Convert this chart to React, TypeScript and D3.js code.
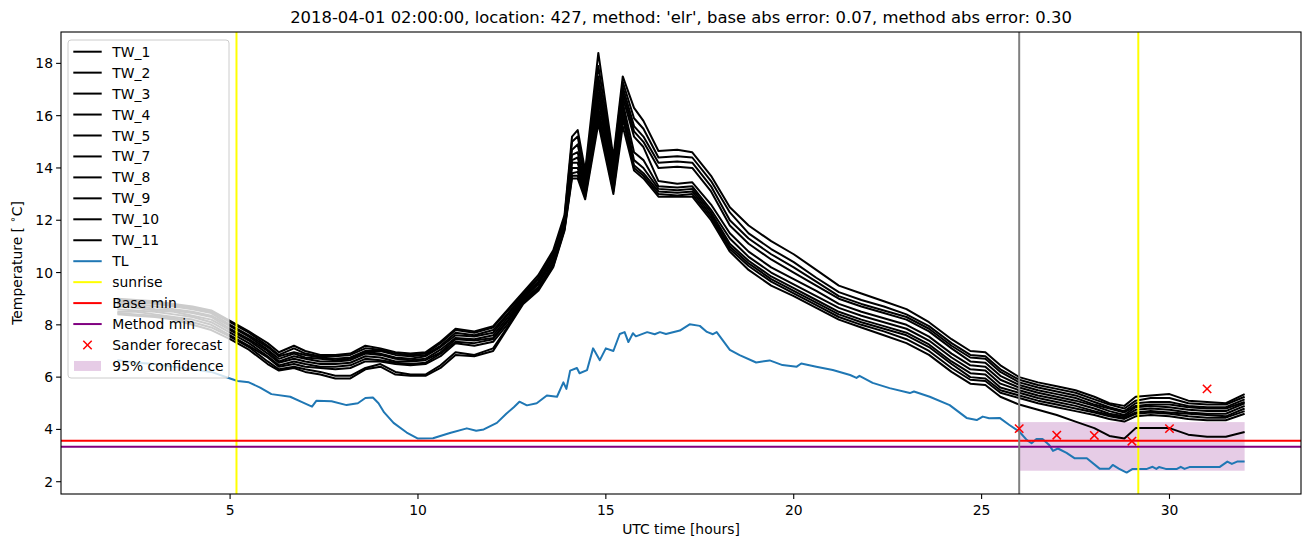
import React from 'react';
import * as d3 from 'd3';

const W = 1311;
const H = 547;
const AX = { left: 61, right: 1301, top: 32, bottom: 494 };
const FONT = 'DejaVu Sans';

const twHours = [2, 2.5, 3, 3.5, 4, 4.5, 5, 5.5, 6, 6.3, 6.7, 7, 7.4, 7.8, 8.2, 8.6, 9, 9.4, 9.8, 10.2, 10.6, 11, 11.5, 12, 12.4, 12.8, 13.2, 13.6, 13.9, 14.1, 14.25, 14.45, 14.8, 15.2, 15.45, 15.75, 16.0, 16.4, 16.9, 17.3, 17.8, 18.3, 18.8, 19.4, 20, 20.6, 21.2, 21.8, 22.4, 23, 23.6, 24.2, 24.7, 25.1, 25.5, 26, 26.5, 27, 27.5, 28, 28.4, 28.8, 29.1, 29.5, 30, 30.5, 31, 31.5, 32];

const tw1 = [9.0, 8.95, 8.9, 8.8, 8.7, 8.55, 8.15, 7.75, 7.3, 6.95, 7.2, 7.0, 6.85, 6.85, 6.9, 7.2, 7.1, 6.95, 6.9, 6.95, 7.35, 7.85, 7.75, 7.95, 8.6, 9.25, 9.9, 10.85, 12.2, 15.2, 15.45, 13.9, 18.4, 14.4, 17.5, 16.3, 15.8, 14.65, 14.7, 14.6, 13.7, 12.5, 11.8, 11.2, 10.7, 10.1, 9.5, 9.2, 8.9, 8.6, 8.1, 7.45, 7.0, 6.95, 6.45, 6.0, 5.8, 5.65, 5.5, 5.25, 5.0, 4.9, 5.25, 5.3, 5.35, 5.1, 5.05, 5.0, 5.35];
const tw2 = [8.95, 8.9, 8.85, 8.75, 8.65, 8.5, 8.1, 7.7, 7.2, 6.85, 7.1, 6.9, 6.8, 6.8, 6.85, 7.1, 7.05, 6.9, 6.85, 6.9, 7.3, 7.8, 7.7, 7.9, 8.55, 9.2, 9.8, 10.75, 12.1, 15.0, 15.2, 13.7, 17.9, 14.2, 17.3, 15.9, 15.5, 14.4, 14.45, 14.4, 13.5, 12.3, 11.5, 10.9, 10.4, 9.8, 9.25, 8.95, 8.7, 8.4, 7.95, 7.3, 6.85, 6.8, 6.3, 5.9, 5.7, 5.55, 5.4, 5.15, 4.95, 4.8, 5.1, 5.2, 5.2, 5.0, 4.95, 4.95, 5.25];
const tw3 = [8.9, 8.85, 8.8, 8.7, 8.6, 8.45, 8.0, 7.6, 7.15, 6.8, 6.95, 6.85, 6.75, 6.7, 6.75, 7.0, 7.0, 6.85, 6.8, 6.85, 7.2, 7.7, 7.6, 7.8, 8.45, 9.15, 9.75, 10.7, 12.0, 14.7, 14.9, 13.55, 17.5, 14.0, 17.1, 15.6, 15.2, 14.2, 14.25, 14.2, 13.3, 12.0, 11.3, 10.7, 10.2, 9.65, 9.1, 8.8, 8.55, 8.3, 7.85, 7.2, 6.75, 6.7, 6.2, 5.8, 5.6, 5.45, 5.3, 5.05, 4.85, 4.7, 5.0, 5.05, 5.05, 4.9, 4.85, 4.85, 5.15];
const tw4 = [8.85, 8.8, 8.7, 8.6, 8.5, 8.35, 7.95, 7.55, 7.05, 6.7, 6.9, 6.75, 6.7, 6.65, 6.7, 6.95, 6.9, 6.75, 6.7, 6.8, 7.15, 7.6, 7.55, 7.7, 8.4, 9.1, 9.65, 10.6, 11.95, 14.5, 14.6, 13.4, 17.2, 13.8, 16.9, 15.4, 15.0, 14.0, 14.05, 14.0, 13.1, 11.8, 11.1, 10.5, 10.0, 9.5, 9.0, 8.7, 8.45, 8.2, 7.75, 7.1, 6.6, 6.55, 6.05, 5.7, 5.5, 5.35, 5.2, 4.95, 4.8, 4.65, 4.9, 4.95, 4.95, 4.85, 4.8, 4.8, 5.05];
const tw5 = [8.8, 8.75, 8.6, 8.55, 8.45, 8.3, 7.85, 7.45, 7.0, 6.6, 6.8, 6.7, 6.6, 6.6, 6.65, 6.9, 6.85, 6.7, 6.65, 6.7, 7.05, 7.5, 7.45, 7.6, 8.3, 9.05, 9.6, 10.5, 11.9, 14.3, 14.4, 13.3, 16.9, 13.6, 16.7, 15.2, 14.8, 13.5, 13.4, 13.45, 12.6, 11.5, 10.8, 10.2, 9.75, 9.3, 8.8, 8.5, 8.25, 8.0, 7.55, 6.9, 6.45, 6.4, 5.9, 5.6, 5.4, 5.25, 5.1, 4.9, 4.7, 4.55, 4.85, 4.9, 4.85, 4.75, 4.7, 4.7, 5.0];
const tw7 = [8.7, 8.65, 8.55, 8.5, 8.35, 8.2, 7.8, 7.4, 6.9, 6.55, 6.7, 6.6, 6.5, 6.5, 6.55, 6.8, 6.75, 6.6, 6.6, 6.65, 6.95, 7.45, 7.4, 7.5, 8.2, 9.0, 9.55, 10.45, 11.8, 14.2, 14.2, 13.2, 16.6, 13.5, 16.5, 14.6, 14.3, 13.3, 13.25, 13.3, 12.4, 11.3, 10.6, 10.0, 9.55, 9.1, 8.65, 8.35, 8.1, 7.85, 7.4, 6.75, 6.3, 6.25, 5.75, 5.5, 5.3, 5.15, 5.0, 4.8, 4.6, 4.5, 4.75, 4.8, 4.75, 4.65, 4.6, 4.6, 4.9];
const tw8 = [8.6, 8.55, 8.5, 8.4, 8.3, 8.1, 7.7, 7.3, 6.8, 6.45, 6.6, 6.5, 6.4, 6.4, 6.45, 6.7, 6.65, 6.55, 6.5, 6.55, 6.9, 7.35, 7.3, 7.45, 8.15, 8.95, 9.45, 10.35, 11.75, 14.0, 14.0, 13.1, 16.3, 13.3, 16.3, 14.3, 14.0, 13.2, 13.15, 13.2, 12.3, 11.1, 10.45, 9.85, 9.4, 8.95, 8.5, 8.2, 7.95, 7.7, 7.25, 6.6, 6.15, 6.1, 5.6, 5.4, 5.2, 5.05, 4.9, 4.7, 4.55, 4.45, 4.65, 4.7, 4.65, 4.6, 4.55, 4.5, 4.8];
const tw9 = [8.5, 8.5, 8.4, 8.3, 8.2, 8.0, 7.6, 7.2, 6.75, 6.4, 6.5, 6.4, 6.35, 6.3, 6.35, 6.6, 6.6, 6.5, 6.45, 6.5, 6.8, 7.3, 7.2, 7.35, 8.05, 8.9, 9.4, 10.3, 11.7, 13.8, 13.85, 13.0, 16.1, 13.2, 16.1, 14.1, 13.8, 13.1, 13.05, 13.1, 12.2, 11.0, 10.35, 9.75, 9.3, 8.85, 8.4, 8.1, 7.85, 7.6, 7.15, 6.5, 6.0, 5.95, 5.5, 5.3, 5.1, 4.95, 4.8, 4.65, 4.5, 4.4, 4.6, 4.65, 4.6, 4.5, 4.45, 4.45, 4.7];
const tw10 = [8.45, 8.4, 8.35, 8.25, 8.1, 7.9, 7.55, 7.15, 6.6, 6.3, 6.4, 6.3, 6.2, 6.05, 6.05, 6.35, 6.5, 6.2, 6.1, 6.1, 6.45, 6.95, 6.85, 7.1, 7.95, 8.85, 9.35, 10.25, 11.65, 13.7, 13.7, 12.9, 15.9, 13.1, 15.9, 14.0, 13.7, 13.0, 12.95, 13.0, 12.1, 10.9, 10.25, 9.65, 9.2, 8.75, 8.3, 8.0, 7.75, 7.45, 7.0, 6.35, 5.9, 5.85, 5.4, 5.2, 5.0, 4.85, 4.7, 4.55, 4.4, 4.3, 4.5, 4.55, 4.5, 4.4, 4.35, 4.35, 4.6];
const tw11 = [8.4, 8.35, 8.3, 8.2, 8.0, 7.8, 7.45, 7.05, 6.5, 6.25, 6.35, 6.2, 6.1, 5.95, 5.95, 6.3, 6.4, 6.1, 6.05, 6.05, 6.35, 6.85, 6.8, 7.0, 7.9, 8.8, 9.3, 10.2, 11.6, 13.6, 13.6, 12.8, 15.7, 13.0, 15.6, 13.9, 13.6, 12.9, 12.9, 12.9, 12.0, 10.8, 10.1, 9.5, 9.1, 8.65, 8.2, 7.9, 7.6, 7.3, 6.85, 6.2, 5.75, 5.7, 5.25, 4.95, 4.75, 4.55, 4.3, 4.05, 3.75, 3.65, 4.05, 4.05, 4.05, 3.8, 3.72, 3.72, 3.9];

const twNames = ['TW_1', 'TW_2', 'TW_3', 'TW_4', 'TW_5', 'TW_7', 'TW_8', 'TW_9', 'TW_10', 'TW_11'];
const twSeries = [tw1, tw2, tw3, tw4, tw5, tw7, tw8, tw9, tw10, tw11];

const tlHours = [2.0, 2.5, 3.0, 3.5, 4.0, 4.5, 5.0, 5.2, 5.5, 5.8, 6.1, 6.6, 6.9, 7.18, 7.3, 7.7, 8.1, 8.4, 8.6, 8.8, 8.95, 9.1, 9.35, 9.7, 10.0, 10.4, 10.85, 11.3, 11.55, 11.75, 12.1, 12.35, 12.55, 12.7, 12.9, 13.16, 13.43, 13.7, 13.87, 13.95, 14.05, 14.23, 14.3, 14.5, 14.66, 14.84, 15.0, 15.2, 15.37, 15.5, 15.6, 15.72, 15.8, 16.1, 16.3, 16.44, 16.6, 16.97, 17.23, 17.5, 17.69, 17.85, 17.95, 18.3, 18.56, 19.0, 19.36, 19.7, 20.08, 20.2, 20.6, 21.04, 21.5, 21.67, 21.75, 22.1, 22.55, 23.09, 23.2, 23.62, 24.15, 24.6, 24.87, 25.03, 25.2, 25.48, 25.74, 26.0, 26.2, 26.33, 26.46, 26.62, 26.8, 26.9, 27.03, 27.26, 27.47, 27.8, 28.14, 28.4, 28.49, 28.65, 28.86, 29.02, 29.4, 29.55, 29.65, 29.72, 29.9, 30.2, 30.3, 30.4, 30.53, 31.33, 31.54, 31.66, 31.8, 32.0];
const tlValues = [6.65, 6.55, 6.5, 6.4, 6.3, 6.2, 5.95, 5.85, 5.8, 5.6, 5.35, 5.25, 5.05, 4.87, 5.1, 5.08, 4.93, 5.0, 5.2, 5.22, 5.0, 4.65, 4.25, 3.88, 3.65, 3.66, 3.86, 4.04, 3.95, 4.0, 4.25, 4.6, 4.85, 5.06, 4.92, 5.0, 5.3, 5.25, 5.8, 5.55, 6.25, 6.35, 6.15, 6.27, 7.1, 6.65, 7.1, 7.0, 7.65, 7.72, 7.34, 7.68, 7.56, 7.72, 7.64, 7.72, 7.65, 7.78, 8.02, 7.96, 7.73, 7.64, 7.72, 7.04, 6.84, 6.56, 6.64, 6.46, 6.4, 6.52, 6.4, 6.27, 6.08, 5.97, 6.05, 5.78, 5.58, 5.39, 5.45, 5.25, 4.93, 4.44, 4.36, 4.49, 4.43, 4.44, 4.17, 3.92, 3.6, 3.47, 3.63, 3.63, 3.4, 3.18, 3.27, 3.1, 2.9, 2.9, 2.5, 2.5, 2.64, 2.5, 2.35, 2.49, 2.49, 2.57, 2.49, 2.56, 2.49, 2.49, 2.57, 2.49, 2.56, 2.56, 2.77, 2.68, 2.77, 2.77];

const sunriseHours = [5.17, 29.17];
const forecastHour = 26;
const baseMin = 3.57;
const methodMin = 3.34;
const ciHours = [26, 32];
const ciLow = 2.42;
const ciHigh = 4.28;
const sanderHours = [26, 27, 28, 29, 30, 31];
const sanderValues = [4.03, 3.78, 3.77, 3.55, 4.03, 5.55];

const xTicks = [5, 10, 15, 20, 25, 30];
const yTicks = [2, 4, 6, 8, 10, 12, 14, 16, 18];

const titleText = "2018-04-01 02:00:00, location: 427, method: 'elr', base abs error: 0.07, method abs error: 0.30";

export default function App() {
  const x = d3.scaleLinear().domain([0.5, 33.5]).range([AX.left, AX.right]);
  const y = d3.scaleLinear().domain([1.53, 19.2]).range([AX.bottom, AX.top]);

  const lineGen = d3
    .line<[number, number]>()
    .x((d) => x(d[0]))
    .y((d) => y(d[1]));

  const twPaths = twSeries.map((s) => lineGen(twHours.map((h, i) => [h, s[i]] as [number, number])) || '');
  const tlPath = lineGen(tlHours.map((h, i) => [h, tlValues[i]] as [number, number])) || '';

  const legendItems: { label: string; kind: string; color: string }[] = [
    ...twNames.map((n) => ({ label: n, kind: 'line', color: '#000000' })),
    { label: 'TL', kind: 'line', color: '#1f77b4' },
    { label: 'sunrise', kind: 'line', color: '#ffff00' },
    { label: 'Base min', kind: 'line', color: '#ff0000' },
    { label: 'Method min', kind: 'line', color: '#800080' },
    { label: 'Sander forecast', kind: 'x', color: '#ff0000' },
    { label: '95% confidence', kind: 'patch', color: '#800080' },
  ];

  const legX = 68;
  const legY = 40;
  const legW = 161;
  const legH = 338;
  const rowH = 20.95;
  const firstRow = 51.7;

  const xm = 4.2;

  return (
    <svg width={W} height={H} style={{ position: 'absolute', left: 0, top: 0, background: '#fff' }} fontFamily={FONT}>
      <rect x={0} y={0} width={W} height={H} fill="#fff" />
      <defs>
        <clipPath id="axclip">
          <rect x={AX.left} y={AX.top} width={AX.right - AX.left} height={AX.bottom - AX.top} />
        </clipPath>
      </defs>

      <g clipPath="url(#axclip)">
        <rect
          x={x(ciHours[0])}
          y={y(ciHigh)}
          width={x(ciHours[1]) - x(ciHours[0])}
          height={y(ciLow) - y(ciHigh)}
          fill="#800080"
          fillOpacity={0.2}
        />
        {twPaths.map((p, i) => (
          <path key={i} d={p} fill="none" stroke="#000" strokeWidth={2} strokeLinejoin="round" />
        ))}
        <path d={tlPath} fill="none" stroke="#1f77b4" strokeWidth={2} strokeLinejoin="round" />
        {sunriseHours.map((h, i) => (
          <line key={i} x1={x(h)} x2={x(h)} y1={AX.top} y2={AX.bottom} stroke="#ffff00" strokeWidth={2} />
        ))}
        <line x1={AX.left} x2={AX.right} y1={y(baseMin)} y2={y(baseMin)} stroke="#ff0000" strokeWidth={2} />
        <line x1={AX.left} x2={AX.right} y1={y(methodMin)} y2={y(methodMin)} stroke="#800080" strokeWidth={2} />
        <line x1={x(forecastHour)} x2={x(forecastHour)} y1={AX.top} y2={AX.bottom} stroke="#808080" strokeWidth={2} />
        {sanderHours.map((h, i) => {
          const cx = x(h);
          const cy = y(sanderValues[i]);
          return (
            <g key={i} stroke="#ff0000" strokeWidth={1.5}>
              <line x1={cx - xm} y1={cy - xm} x2={cx + xm} y2={cy + xm} />
              <line x1={cx - xm} y1={cy + xm} x2={cx + xm} y2={cy - xm} />
            </g>
          );
        })}
      </g>

      {/* axes frame */}
      <rect x={AX.left} y={AX.top} width={AX.right - AX.left} height={AX.bottom - AX.top} fill="none" stroke="#000" strokeWidth={1.1} />

      {/* x ticks */}
      {xTicks.map((t) => (
        <g key={t}>
          <line x1={x(t)} x2={x(t)} y1={AX.bottom} y2={AX.bottom + 4.9} stroke="#000" strokeWidth={1.1} />
          <text x={x(t)} y={AX.bottom + 17} textAnchor="middle" dominantBaseline="middle" fontSize={13.9} fill="#000">
            {t}
          </text>
        </g>
      ))}
      {/* y ticks */}
      {yTicks.map((t) => (
        <g key={t}>
          <line x1={AX.left - 4.9} x2={AX.left} y1={y(t)} y2={y(t)} stroke="#000" strokeWidth={1.1} />
          <text x={AX.left - 8} y={y(t)} textAnchor="end" dominantBaseline="central" fontSize={13.9} fill="#000">
            {t}
          </text>
        </g>
      ))}

      <text x={(AX.left + AX.right) / 2} y={530} textAnchor="middle" dominantBaseline="middle" fontSize={13.9} fill="#000">
        UTC time [hours]
      </text>
      <text
        transform={`translate(18, ${(AX.top + AX.bottom) / 2}) rotate(-90)`}
        textAnchor="middle"
        dominantBaseline="middle"
        fontSize={13.9}
        fill="#000"
      >
        Temperature [ <tspan fontSize={10} dy={-5}>∘</tspan>
        <tspan dy={5}>C]</tspan>
      </text>

      <text x={(AX.left + AX.right) / 2} y={18} textAnchor="middle" dominantBaseline="middle" fontSize={16.4} fill="#000">
        {titleText}
      </text>

      {/* legend */}
      <g>
        <rect x={legX} y={legY} width={legW} height={legH} rx={3} fill="#fff" fillOpacity={0.8} stroke="#cccccc" strokeWidth={1} />
        {legendItems.map((it, i) => {
          const cy = firstRow + i * rowH;
          let handle: React.ReactNode = null;
          if (it.kind === 'line') {
            handle = <line x1={73.3} x2={101.7} y1={cy} y2={cy} stroke={it.color} strokeWidth={2} />;
          } else if (it.kind === 'x') {
            handle = (
              <g stroke={it.color} strokeWidth={1.5}>
                <line x1={87.5 - xm} y1={cy - xm} x2={87.5 + xm} y2={cy + xm} />
                <line x1={87.5 - xm} y1={cy + xm} x2={87.5 + xm} y2={cy - xm} />
              </g>
            );
          } else {
            handle = <rect x={74} y={cy - 5} width={27} height={10} fill={it.color} fillOpacity={0.2} />;
          }
          return (
            <g key={it.label}>
              {handle}
              <text x={112.3} y={cy} dominantBaseline="central" fontSize={13.9} fill="#000">
                {it.label}
              </text>
            </g>
          );
        })}
      </g>
    </svg>
  );
}
